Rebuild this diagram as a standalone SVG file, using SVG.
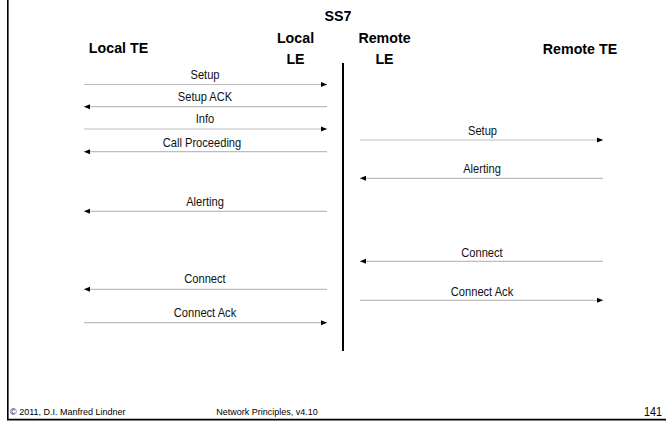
<svg xmlns="http://www.w3.org/2000/svg" width="666" height="421" viewBox="0 0 666 421">
  <style>
    .head { font-family: "Liberation Sans", Arial, sans-serif; font-weight: bold; font-size: 15px; fill: #000; text-anchor: middle; }
    .msg { font-family: "Liberation Sans", Arial, sans-serif; font-size: 13.4px; fill: #111; text-anchor: middle; }
    .foot { font-family: "Liberation Sans", Arial, sans-serif; font-size: 9px; fill: #000; }
    .page { font-size: 12px; text-anchor: end; }
    .line { stroke: #bdbdbd; stroke-width: 1.2; fill: none; marker-end: url(#tip); }
    .frame { stroke: #000; stroke-width: 1.6; fill: none; }
  </style>
  <defs>
    <marker id="tip" markerUnits="userSpaceOnUse" markerWidth="6" markerHeight="6" viewBox="0 0 6 6" refX="6" refY="3" orient="auto">
      <path d="M0,0.5 L6,3 L0,5.5 Z" fill="#000"/>
    </marker>
  </defs>

  <rect width="666" height="421" fill="#fff"/>

  <!-- slide frame -->
  <path class="frame" d="M7.8,0 V419.6 H666"/>

  <!-- participants (condensed headings) -->
  <g id="local-te"><text class="head" transform="translate(118.5,53) scale(0.95,1)">Local TE</text></g>
  <g id="local-le">
    <text class="head" transform="translate(295.5,43) scale(0.95,1)">Local</text>
    <text class="head" transform="translate(295.5,64) scale(0.95,1)">LE</text>
  </g>
  <g id="ss7">
    <text class="head" transform="translate(338,21) scale(0.95,1)">SS7</text>
    <line x1="343" y1="63" x2="343" y2="351" stroke="#000" stroke-width="2"/>
  </g>
  <g id="remote-le">
    <text class="head" transform="translate(384.5,43) scale(0.95,1)">Remote</text>
    <text class="head" transform="translate(384.5,63.5) scale(0.95,1)">LE</text>
  </g>
  <g id="remote-te"><text class="head" transform="translate(580,53.5) scale(0.95,1)">Remote TE</text></g>

  <!-- message flows -->
  <g id="connectors">
    <line class="line" x1="84" y1="84.5" x2="327" y2="84.5"/>
    <line class="line" x1="327" y1="106.7" x2="84" y2="106.7"/>
    <line class="line" x1="84" y1="129" x2="327" y2="129"/>
    <line class="line" x1="327" y1="151.7" x2="84" y2="151.7"/>
    <line class="line" x1="327" y1="211.3" x2="84" y2="211.3"/>
    <line class="line" x1="327" y1="289.3" x2="84" y2="289.3"/>
    <line class="line" x1="84" y1="322.7" x2="327" y2="322.7"/>

    <line class="line" x1="360" y1="140" x2="603" y2="140"/>
    <line class="line" x1="603" y1="178.3" x2="360" y2="178.3"/>
    <line class="line" x1="603" y1="261.3" x2="360" y2="261.3"/>
    <line class="line" x1="360" y1="300.3" x2="603" y2="300.3"/>
  </g>

  <!-- message names (condensed) -->
  <g id="labels">
    <text class="msg" transform="translate(205,78.5) scale(0.83,1)">Setup</text>
    <text class="msg" transform="translate(205,100.7) scale(0.83,1)">Setup ACK</text>
    <text class="msg" transform="translate(205,122.5) scale(0.83,1)">Info</text>
    <text class="msg" transform="translate(202,146.7) scale(0.83,1)">Call Proceeding</text>
    <text class="msg" transform="translate(205,205.7) scale(0.83,1)">Alerting</text>
    <text class="msg" transform="translate(205,283.3) scale(0.83,1)">Connect</text>
    <text class="msg" transform="translate(205,316.7) scale(0.83,1)">Connect Ack</text>

    <text class="msg" transform="translate(482.5,135) scale(0.83,1)">Setup</text>
    <text class="msg" transform="translate(482,173.3) scale(0.83,1)">Alerting</text>
    <text class="msg" transform="translate(482,256.7) scale(0.83,1)">Connect</text>
    <text class="msg" transform="translate(482,295.7) scale(0.83,1)">Connect Ack</text>
  </g>

  <!-- footer -->
  <g id="footer">
    <text class="foot" x="10" y="415">© 2011, D.I. Manfred Lindner</text>
    <text class="foot" x="267" y="415" text-anchor="middle">Network Principles, v4.10</text>
    <text class="foot page" transform="translate(662,416) scale(0.9,1)">141</text>
  </g>
</svg>
